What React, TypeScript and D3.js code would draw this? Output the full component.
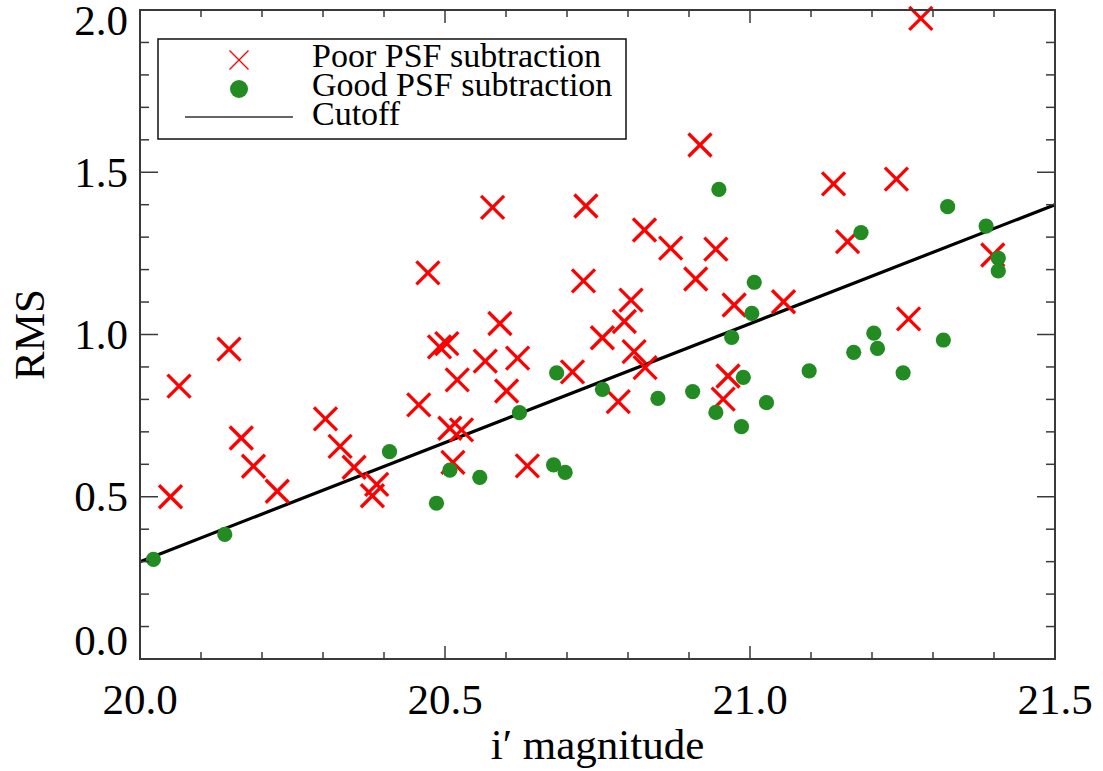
import React from "react";
import * as d3 from "d3";

const poorX = [20.050, 20.064, 20.146, 20.166, 20.186, 20.225, 20.304, 20.328, 20.351, 20.381, 20.388, 20.457, 20.472, 20.491, 20.503, 20.520, 20.508, 20.527, 20.513, 20.566, 20.578, 20.590, 20.601, 20.619, 20.635, 20.709, 20.727, 20.731, 20.758, 20.784, 20.794, 20.805, 20.810, 20.828, 20.827, 20.870, 20.911, 20.918, 20.944, 20.956, 20.964, 20.974, 21.055, 21.137, 21.160, 21.240, 21.260, 21.280, 21.398];
const poorY = [0.500, 0.841, 0.955, 0.681, 0.594, 0.517, 0.740, 0.655, 0.591, 0.503, 0.538, 0.783, 1.190, 0.962, 0.972, 0.860, 0.711, 0.706, 0.606, 0.918, 1.392, 1.034, 0.826, 0.927, 0.595, 0.885, 1.165, 1.396, 0.990, 0.793, 1.040, 1.106, 0.947, 0.898, 1.322, 1.266, 1.171, 1.584, 1.263, 0.801, 0.872, 1.091, 1.101, 1.464, 1.286, 1.479, 1.048, 1.974, 1.245];

const goodX = [20.022, 20.139, 20.409, 20.486, 20.508, 20.557, 20.622, 20.678, 20.697, 20.683, 20.758, 20.849, 20.906, 20.944, 20.949, 20.970, 20.986, 20.989, 21.003, 21.007, 21.027, 21.097, 21.170, 21.182, 21.203, 21.209, 21.251, 21.317, 21.324, 21.387, 21.407, 21.407];
const goodY = [0.307, 0.384, 0.639, 0.480, 0.582, 0.560, 0.759, 0.598, 0.575, 0.882, 0.831, 0.803, 0.824, 0.760, 1.447, 0.991, 0.716, 0.868, 1.065, 1.161, 0.790, 0.888, 0.945, 1.314, 1.004, 0.957, 0.882, 0.983, 1.394, 1.334, 1.235, 1.196];

const cutoffX = [20.0, 21.5];
const cutoffY = [0.3, 1.4];

const xMajorTicks = [20.0, 20.5, 21.0, 21.5];
const yMajorTicks = [0.0, 0.5, 1.0, 1.5, 2.0];
const xLabels = ["20.0", "20.5", "21.0", "21.5"];
const yLabels = ["0.0", "0.5", "1.0", "1.5", "2.0"];

const legendLabels = ["Poor PSF subtraction", "Good PSF subtraction", "Cutoff"];
const xTitle = "i\u2032 magnitude";
const yTitle = "RMS";

const FONT = "'Liberation Serif', 'Times New Roman', serif";

export default function App() {
  const left = 140, right = 1055, top = 10, bottom = 659;
  const x = d3.scaleLinear().domain([20, 21.5]).range([left, right]);
  const y = d3.scaleLinear().domain([0, 2]).range([bottom, top]);

  const xMinor = d3.range(20, 21.5001, 0.1).filter(v => !xMajorTicks.some(m => Math.abs(m - v) < 1e-6));
  const yMinor = d3.range(0, 2.0001, 0.1).filter(v => !yMajorTicks.some(m => Math.abs(m - v) < 1e-6));

  const line = d3.line<number>().x((_, i) => x(cutoffX[i])).y((d) => y(d));

  const axisColor = "#3a3a3a";
  const xs = 11.5; // half-size of data X

  return (
    <svg width={1103} height={771} style={{ position: "absolute", left: 0, top: 0, background: "#fff" }}>
      <rect x={0} y={0} width={1103} height={771} fill="#fff" />
      {/* cutoff line */}
      <path d={line(cutoffY) || ""} stroke="#000" strokeWidth={3.2} fill="none" />
      {/* poor */}
      {poorX.map((v, i) => {
        const cx = x(v), cy = y(poorY[i]);
        return (
          <g key={"p" + i} stroke="#ff0000" strokeWidth={3.3}>
            <line x1={cx - xs} y1={cy - xs} x2={cx + xs} y2={cy + xs} />
            <line x1={cx - xs} y1={cy + xs} x2={cx + xs} y2={cy - xs} />
          </g>
        );
      })}
      {/* good */}
      {goodX.map((v, i) => (
        <circle key={"g" + i} cx={x(v)} cy={y(goodY[i])} r={7.6} fill="#228B22" />
      ))}
      {/* frame */}
      <rect x={left} y={top} width={right - left} height={bottom - top} fill="none" stroke={axisColor} strokeWidth={2} />
      {/* x ticks */}
      {xMajorTicks.map((v, i) => (
        <g key={"xm" + i} stroke={axisColor} strokeWidth={1.5}>
          <line x1={x(v)} x2={x(v)} y1={bottom} y2={bottom - 13} />
          <line x1={x(v)} x2={x(v)} y1={top} y2={top + 13} />
        </g>
      ))}
      {xMinor.map((v, i) => (
        <g key={"xn" + i} stroke={axisColor} strokeWidth={1.5}>
          <line x1={x(v)} x2={x(v)} y1={bottom} y2={bottom - 7} />
          <line x1={x(v)} x2={x(v)} y1={top} y2={top + 7} />
        </g>
      ))}
      {yMajorTicks.map((v, i) => (
        <g key={"ym" + i} stroke={axisColor} strokeWidth={1.5}>
          <line x1={left} x2={left + 18} y1={y(v)} y2={y(v)} />
          <line x1={right} x2={right - 18} y1={y(v)} y2={y(v)} />
        </g>
      ))}
      {yMinor.map((v, i) => (
        <g key={"yn" + i} stroke={axisColor} strokeWidth={1.5}>
          <line x1={left} x2={left + 9} y1={y(v)} y2={y(v)} />
          <line x1={right} x2={right - 9} y1={y(v)} y2={y(v)} />
        </g>
      ))}
      {/* tick labels */}
      {xMajorTicks.map((v, i) => (
        <text key={"xl" + i} x={x(v)} y={714} textAnchor="middle" fontFamily={FONT} fontSize={43} fill="#000">
          {xLabels[i]}
        </text>
      ))}
      {yMajorTicks.map((v, i) => (
        <text key={"yl" + i} x={128} y={Math.min(655, Math.max(35, y(v) + 14.5))} textAnchor="end" fontFamily={FONT} fontSize={43} fill="#000">
          {yLabels[i]}
        </text>
      ))}
      {/* axis titles */}
      <text x={(left + right) / 2} y={759} textAnchor="middle" fontFamily={FONT} fontSize={43} fill="#000">{xTitle}</text>
      <text transform={`translate(44, ${y(1.0)}) rotate(-90)`} textAnchor="middle" fontFamily={FONT} fontSize={43} fill="#000">{yTitle}</text>
      {/* legend */}
      <rect x={158} y={39} width={468} height={100} fill="#fff" stroke="#111" strokeWidth={1.5} />
      <g stroke="#ff0000" strokeWidth={1.2}>
        <line x1={239 - 9.5} y1={60 - 9.5} x2={239 + 9.5} y2={60 + 9.5} />
        <line x1={239 - 9.5} y1={60 + 9.5} x2={239 + 9.5} y2={60 - 9.5} />
      </g>
      <circle cx={239} cy={89} r={9} fill="#228B22" />
      <line x1={185} x2={293} y1={117} y2={117} stroke="#333" strokeWidth={1.5} />
      {legendLabels.map((t, i) => (
        <text key={"lg" + i} x={312} y={67 + i * 29} fontFamily={FONT} fontSize={34} fill="#000">{t}</text>
      ))}
    </svg>
  );
}
